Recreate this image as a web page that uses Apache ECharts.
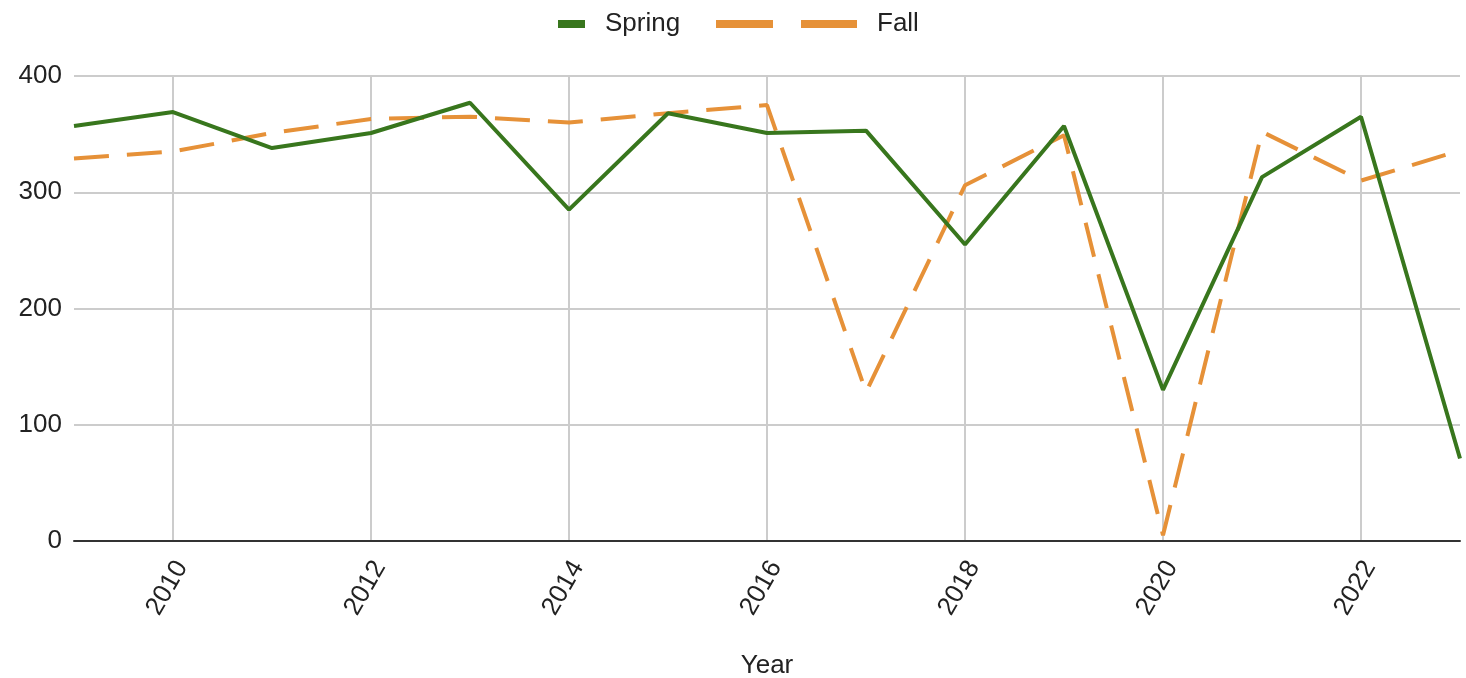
<!DOCTYPE html>
<html>
<head>
<meta charset="utf-8">
<script src="https://cdn.jsdelivr.net/npm/echarts@6/dist/echarts.min.js"></script>
<style>
  html, body { margin: 0; padding: 0; background: #fff; }
  #chart { width: 1466px; height: 678px; }
</style>
</head>
<body>
<div id="chart"></div>
<script>
var years = ['2009', '2010', '2011', '2012', '2013', '2014', '2015', '2016',
             '2017', '2018', '2019', '2020', '2021', '2022', '2023'];
var spring = [357, 369, 338, 351, 377, 285, 368, 351, 353, 255, 357, 130, 313, 365, 71];
var fall = [329, 335, 351, 363, 365, 360, 368, 375, 128, 306, 349, 5, 352, 310, 336];
var yTicks = [0, 100, 200, 300, 400];

var green = '#38761d';
var orange = '#e69138';
var font = 'Arial, "Liberation Sans", sans-serif';
var textColor = '#222';

var myChart = echarts.init(document.getElementById('chart'));

// only every other year gets a label and a grid line
function oddIndex(idx) { return idx % 2 === 1; }

var legendText = { fontSize: 26, color: textColor, fontFamily: font, padding: [0, 0, 0, 15] };

var option = {
    animation: false,
    textStyle: { fontFamily: font },
    legend: [
        {
            left: 553, top: 6,
            itemWidth: 27, itemHeight: 8,
            textStyle: legendText,
            data: [{ name: 'Spring', icon: 'rect' }]
        },
        {
            left: 711, top: 6,
            itemWidth: 141, itemHeight: 8,
            textStyle: legendText,
            data: [{ name: 'Fall', icon: 'path://M0,0h57v8h-57z M85,0h56v8h-56z' }]
        }
    ],
    grid: {
        left: 74,
        right: 6,
        top: 76,
        bottom: 137,
        outerBoundsMode: 'none'
    },
    xAxis: {
        type: 'category',
        boundaryGap: false,
        data: years,
        name: 'Year',
        nameLocation: 'middle',
        nameGap: 112,
        nameTextStyle: { fontSize: 26, color: textColor, fontFamily: font },
        axisLine: { lineStyle: { color: '#333', width: 2 } },
        axisTick: { show: false },
        axisLabel: {
            interval: function (idx) { return oddIndex(idx); },
            rotate: 60,
            fontSize: 26,
            color: textColor,
            margin: 17,
            verticalAlign: 'top',
            lineHeight: 20
        },
        splitLine: {
            show: true,
            interval: function (idx) { return oddIndex(idx); },
            lineStyle: { color: '#cccccc', width: 2 }
        }
    },
    yAxis: {
        type: 'value',
        min: yTicks[0],
        max: yTicks[yTicks.length - 1],
        interval: 100,
        axisLine: { show: false },
        axisTick: { show: false },
        axisLabel: { fontSize: 26, color: textColor, margin: 12 },
        splitLine: { lineStyle: { color: '#cccccc', width: 2 } }
    },
    series: [
        {
            name: 'Spring',
            type: 'line',
            data: spring,
            showSymbol: false,
            symbol: 'none',
            color: green,
            lineStyle: { width: 4, color: green },
            z: 3
        },
        {
            name: 'Fall',
            type: 'line',
            data: fall,
            showSymbol: false,
            symbol: 'none',
            color: orange,
            lineStyle: { width: 4, color: orange, type: [35, 18] },
            z: 2
        }
    ]
};

myChart.setOption(option);
</script>
</body>
</html>
